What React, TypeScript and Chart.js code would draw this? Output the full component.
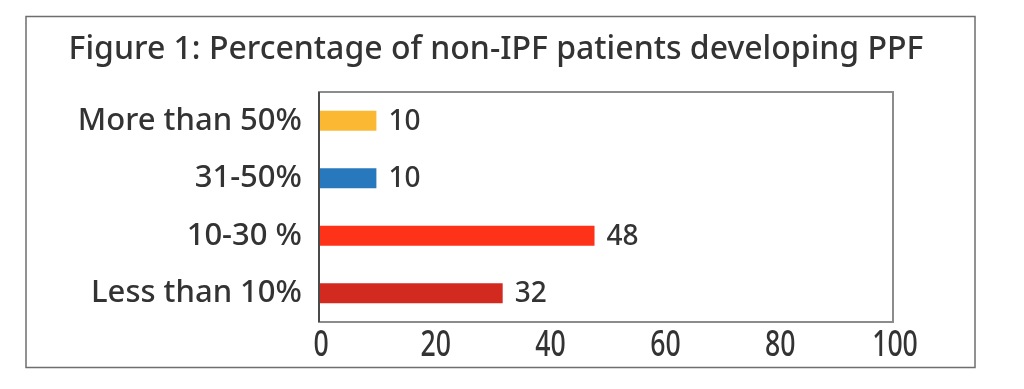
import React, { useEffect, useRef } from "react";
import { Chart, registerables } from "chart.js";

Chart.register(...registerables);

const TITLE = "Figure 1: Percentage of non-IPF patients developing PPF";
const categories = ["More than 50%", "31-50%", "10-30 %", "Less than 10%"];
const values = [10, 10, 48, 32];
const barColors = ["#FBB833", "#2878BE", "#FE3119", "#D22A1F"];
const xTicks = [0, 20, 40, 60, 80, 100];

const TEXT = "#333333";
const LABEL_FONT = '"Noto Sans", Lato, sans-serif';

const framePlugin = {
  id: "frame",
  beforeDraw(chart: any) {
    const ctx = chart.ctx;
    ctx.save();
    ctx.fillStyle = "#ffffff";
    ctx.fillRect(0, 0, chart.width, chart.height);
    ctx.strokeStyle = "#6e6e6e";
    ctx.lineWidth = 1.5;
    ctx.strokeRect(26, 16.5, 949, 351);
    ctx.fillStyle = TEXT;
    ctx.font = `500 32px ${LABEL_FONT}`;
    ctx.textAlign = "center";
    ctx.textBaseline = "middle";
    ctx.fillText(TITLE, 496, 50);
    ctx.restore();
  },
  afterDatasetsDraw(chart: any) {
    const ctx = chart.ctx;
    const a = chart.chartArea;
    ctx.save();
    ctx.strokeStyle = "#8c8c8c";
    ctx.lineWidth = 2;
    ctx.strokeRect(a.left, a.top, a.right - a.left, a.bottom - a.top);
    ctx.strokeStyle = "#4a4a4a";
    ctx.beginPath();
    ctx.moveTo(a.left, a.top);
    ctx.lineTo(a.left, a.bottom);
    ctx.stroke();
    const meta = chart.getDatasetMeta(0);
    ctx.fillStyle = TEXT;
    ctx.font = `500 28px ${LABEL_FONT}`;
    ctx.textAlign = "left";
    ctx.textBaseline = "middle";
    meta.data.forEach((el: any, i: number) => {
      ctx.fillText(String(values[i]), el.x + 12, el.y + 1);
    });
    // condensed x tick labels
    const xs = chart.scales.x;
    ctx.font = `500 36px ${LABEL_FONT}`;
    ctx.textAlign = "center";
    ctx.textBaseline = "middle";
    xTicks.forEach((v) => {
      const px = xs.getPixelForValue(v);
      ctx.save();
      ctx.translate(px + 2, 346);
      ctx.scale(0.74, 1);
      ctx.fillText(String(v), 0, 0);
      ctx.restore();
    });
    ctx.restore();
  },
};

export default function App() {
  const ref = useRef<HTMLCanvasElement>(null);
  useEffect(() => {
    if (!ref.current) return;
    const chart = new Chart(ref.current, {
      type: "bar",
      data: {
        labels: categories,
        datasets: [
          {
            data: values,
            backgroundColor: barColors,
            categoryPercentage: 1,
            barPercentage: 0.35,
          },
        ],
      },
      options: {
        indexAxis: "y",
        animation: false,
        responsive: false,
        devicePixelRatio: 1,
        layout: { padding: { top: 92, left: 26, right: 131, bottom: 17 } },
        plugins: {
          legend: { display: false },
          title: { display: false },
          tooltip: { enabled: false },
        },
        scales: {
          x: {
            min: 0,
            max: 100,
            afterBuildTicks: (s: any) => {
              s.ticks = xTicks.map((v) => ({ value: v }));
            },
            afterFit: (s: any) => {
              s.height = 50;
            },
            grid: { display: false, drawTicks: false },
            border: { display: false },
            ticks: { display: false },
          },
          y: {
            afterFit: (s: any) => {
              s.width = 293;
            },
            grid: { display: false, drawTicks: false },
            border: { display: false },
            ticks: {
              padding: 17,
              color: TEXT,
              font: { family: LABEL_FONT, size: 31, weight: "500" },
            },
          },
        },
      },
      plugins: [framePlugin],
    });
    return () => chart.destroy();
  }, []);
  return (
    <div style={{ position: "absolute", left: 0, top: 0, width: 1024, height: 389, background: "#fff" }}>
      <canvas ref={ref} width={1024} height={389} style={{ width: 1024, height: 389, display: "block" }} />
    </div>
  );
}
